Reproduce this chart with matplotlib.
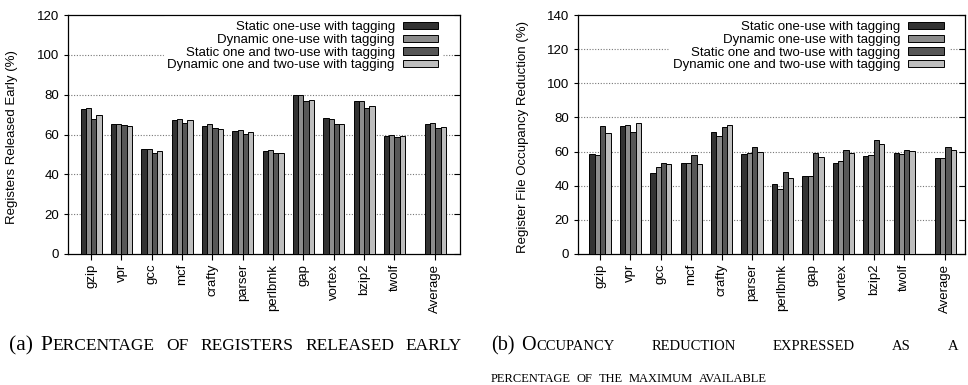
import matplotlib
import numpy as np

matplotlib.use('agg')
from matplotlib import pyplot as plt
from matplotlib import lines as mlines

benchmarks = ['gzip', 'vpr', 'gcc', 'mcf', 'crafty', 'parser', 'perlbmk',
              'gap', 'vortex', 'bzip2', 'twolf', 'Average']
series_names = ['Static one-use with tagging',
                'Dynamic one-use with tagging',
                'Static one and two-use with tagging',
                'Dynamic one and two-use with tagging']

# (a) registers released early (%)
released_static_one = [73.0, 65.3, 52.5, 67.3, 64.3, 62.0, 51.5, 80.0, 68.2, 76.7, 59.0, 65.3]
released_dynamic_one = [73.5, 65.2, 52.8, 67.7, 65.2, 62.3, 52.0, 80.0, 67.8, 77.0, 59.7, 65.7]
released_static_two = [68.0, 64.7, 50.7, 66.0, 63.5, 60.2, 50.7, 76.7, 65.2, 73.3, 58.5, 63.3]
released_dynamic_two = [70.0, 64.2, 51.5, 67.5, 63.0, 61.5, 50.7, 77.5, 65.5, 74.3, 59.0, 64.0]

# (b) register file occupancy reduction (%)
occupancy_static_one = [58.4, 74.7, 47.7, 53.1, 71.4, 58.4, 40.9, 45.4, 53.5, 57.6, 59.0, 56.3]
occupancy_dynamic_one = [58.0, 75.3, 50.8, 53.1, 68.9, 59.0, 38.3, 45.4, 54.3, 57.8, 58.4, 56.3]
occupancy_static_two = [75.1, 71.2, 53.1, 57.8, 74.5, 62.5, 48.1, 59.0, 60.7, 66.6, 60.9, 62.5]
occupancy_dynamic_two = [70.7, 76.5, 52.7, 52.7, 75.3, 59.8, 44.4, 56.8, 59.0, 64.6, 60.1, 61.1]

colors = ['#333333', '#8c8c8c', '#575757', '#bdbdbd']
positions = np.append(np.arange(11), 11.35)
bar_w = 0.175

FONT = 'Liberation Sans'
SERIF = 'Liberation Serif'
W, H = 968, 385


def draw_panel(ax, data, ymax, ylabel, xlim):
    for i, vals in enumerate(data):
        ax.bar(positions + (i - 1.5) * bar_w, vals, bar_w, color=colors[i],
               edgecolor='black', linewidth=0.7, label=series_names[i], zorder=3)
    ax.set_xlim(*xlim)
    ax.set_ylim(0, ymax)
    ax.set_yticks(np.arange(0, ymax + 1, 20))
    for y in np.arange(20, ymax, 20):
        ax.axhline(y, color='#777777', linestyle=(0, (1, 1.5)), linewidth=0.8, zorder=1)
    ax.set_xticks(positions)
    ax.set_xticklabels(benchmarks, rotation=90, fontsize=9.5, family=FONT)
    for lab in ax.get_yticklabels():
        lab.set_family(FONT)
        lab.set_fontsize(9.5)
    ax.tick_params(axis='x', direction='out', length=4, width=0.8, pad=3)
    ax.tick_params(axis='y', direction='out', length=3, width=0.8, pad=3,
                   right=True)
    # mirrored ticks on the right side point inwards
    for t in ax.yaxis.get_major_ticks():
        t.tick2line.set_marker(mlines.TICKLEFT)
        t.tick2line.set_markersize(4)
    for s in ax.spines.values():
        s.set_linewidth(0.9)
    ax.set_ylabel(ylabel, fontsize=9.5, family=FONT)
    ax.yaxis.set_label_coords(-0.125, 0.49)
    leg = ax.legend(loc='upper right', bbox_to_anchor=(0.955, 0.99),
                    borderaxespad=0, borderpad=0.3, markerfirst=False,
                    frameon=True, fancybox=False, framealpha=1,
                    edgecolor='white', facecolor='white',
                    prop={'family': FONT, 'size': 9.5},
                    handlelength=2.7, handleheight=0.45, handletextpad=0.6,
                    labelspacing=0.05)
    leg.set_zorder(5)


def small_caps(fig, x_px, y_px, prefix, body, size=14, small=10.5, width_px=None):
    r = fig.canvas.get_renderer()

    def measure(text, sz):
        t = fig.text(0, 0, text, fontsize=sz, family=SERIF)
        wd = t.get_window_extent(r).width
        t.remove()
        return wd

    natural_gap = measure('A A', small) - 2 * measure('A', small) + 2
    x = x_px
    if prefix:
        fig.text(x / W, 1 - y_px / H, prefix, fontsize=size, family=SERIF,
                 va='baseline', ha='left')
        x += measure(prefix, size) + natural_gap + 3
    words = []
    for w in body.split():
        runs = []
        for ch in w:
            sz = size if ch.isupper() else small
            if runs and runs[-1][1] == sz:
                runs[-1] = (runs[-1][0] + ch.upper(), sz)
            else:
                runs.append((ch.upper(), sz))
        words.append(runs)

    widths = [sum(measure(t, s) for t, s in runs) for runs in words]
    if width_px is None:
        gap = natural_gap
    else:
        gap = (x_px + width_px - x - sum(widths)) / (len(words) - 1)
    for runs, wd in zip(words, widths):
        xx = x
        for t, s in runs:
            fig.text(xx / W, 1 - y_px / H, t, fontsize=s, family=SERIF,
                     va='baseline', ha='left')
            xx += measure(t, s)
        x += wd + gap


fig = plt.figure(figsize=(W / 100, H / 100), dpi=100)
ax1 = fig.add_axes([67.5 / W, 1 - 254 / H, 392.5 / W, 239 / H])
ax2 = fig.add_axes([577.5 / W, 1 - 254 / H, 387.5 / W, 239 / H])

draw_panel(ax1, [released_static_one, released_dynamic_one,
                 released_static_two, released_dynamic_two],
           120, 'Registers Released Early (%)', (-0.78, 12.16))
draw_panel(ax2, [occupancy_static_one, occupancy_dynamic_one,
                 occupancy_static_two, occupancy_dynamic_two],
           140, 'Register File Occupancy Reduction (%)', (-0.74, 12.0))

fig.canvas.draw()
small_caps(fig, 9, 350, '(a)', 'Percentage of registers released early',
           size=15.5, small=12.5, width_px=453)
small_caps(fig, 491, 350, '(b)', 'Occupancy reduction expressed as a',
           size=14.5, small=10.5, width_px=467)
small_caps(fig, 491, 382, None, 'percentage of the maximum available',
           small=9.0, width_px=276)

fig.savefig('out.png', dpi=100)
